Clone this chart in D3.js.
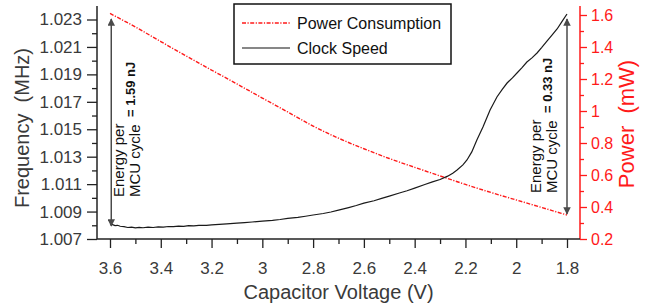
<!DOCTYPE html>
<html>
<head>
<meta charset="utf-8">
<script src="https://d3js.org/d3.v7.min.js"></script>
<style>
body { margin: 0; background: #fff; }
text { font-family: "Liberation Sans", Arial, sans-serif; }
</style>
</head>
<body>
<script>
// clock speed (MHz) vs capacitor voltage
const voltsF = [3.600, 3.590, 3.580, 3.570, 3.560, 3.545, 3.530, 3.515, 3.500, 3.485, 3.470, 3.450, 3.430, 3.410, 3.390, 3.370, 3.350, 3.330, 3.310, 3.290, 3.270, 3.250, 3.220, 3.200, 3.170, 3.140, 3.100, 3.070, 3.040, 3.000, 2.960, 2.930, 2.900, 2.860, 2.830, 2.800, 2.760, 2.730, 2.700, 2.660, 2.630, 2.600, 2.560, 2.530, 2.500, 2.460, 2.430, 2.400, 2.360, 2.330, 2.300, 2.270, 2.250, 2.233, 2.210, 2.194, 2.175, 2.155, 2.131, 2.103, 2.076, 2.055, 2.036, 2.015, 1.997, 1.978, 1.958, 1.938, 1.918, 1.900, 1.879, 1.860, 1.839, 1.820, 1.800]
const freq = [1.00810, 1.00805, 1.00798, 1.00800, 1.00793, 1.00790, 1.00784, 1.00787, 1.00781, 1.00784, 1.00782, 1.00786, 1.00784, 1.00789, 1.00786, 1.00791, 1.00790, 1.00794, 1.00792, 1.00797, 1.00796, 1.00800, 1.00799, 1.00803, 1.00806, 1.00810, 1.00816, 1.00820, 1.00824, 1.00830, 1.00836, 1.00842, 1.00851, 1.00858, 1.00866, 1.00875, 1.00886, 1.00897, 1.00910, 1.00929, 1.00944, 1.00961, 1.00979, 1.00996, 1.01012, 1.01035, 1.01052, 1.01071, 1.01097, 1.01116, 1.01134, 1.01158, 1.01180, 1.01203, 1.01240, 1.01276, 1.01335, 1.01422, 1.01516, 1.01640, 1.01735, 1.01790, 1.01837, 1.01875, 1.01910, 1.01948, 1.01990, 1.02020, 1.02056, 1.02095, 1.02143, 1.02185, 1.02231, 1.02285, 1.02340]

// power consumption (mW) vs capacitor voltage
const voltsP = [3.6, 3.5, 3.4, 3.3, 3.2, 3.1, 3.0, 2.9, 2.8, 2.7, 2.6, 2.5, 2.4, 2.3, 2.2, 2.1, 2.0, 1.9, 1.8]
const power = [1.61, 1.525, 1.434, 1.344, 1.256, 1.169, 1.081, 0.994, 0.906, 0.830, 0.764, 0.703, 0.648, 0.594, 0.541, 0.491, 0.444, 0.397, 0.35]

const voltTicks = [3.6, 3.4, 3.2, 3, 2.8, 2.6, 2.4, 2.2, 2, 1.8]
const voltMinor = [3.5, 3.3, 3.1, 2.9, 2.7, 2.5, 2.3, 2.1, 1.9]
const freqTicks = [1.007, 1.009, 1.011, 1.013, 1.015, 1.017, 1.019, 1.021, 1.023]
const freqMinor = [1.008, 1.010, 1.012, 1.014, 1.016, 1.018, 1.020, 1.022]
const powerTicks = [0.2, 0.4, 0.6, 0.8, 1, 1.2, 1.4, 1.6]
const powerMinor = [0.3, 0.5, 0.7, 0.9, 1.1, 1.3, 1.5]

const annotations = [
    { v: 3.595, top: 1.6, bottom: 0.35, energy: "= 1.59 nJ" },
    { v: 1.8, top: 1.6, bottom: 0.35, energy: "= 0.33 nJ" }
]

const W = 649, H = 304
const plot = { left: 97, right: 580, bottom: 239, top: 6 }

const svg = d3.select("body").append("svg")
    .attr("width", W)
    .attr("height", H)

const x = d3.scaleLinear().domain([3.6, 1.8]).range([110, 567])
const yF = d3.scaleLinear().domain([1.007, 1.023]).range([239, 19.5])
const yP = d3.scaleLinear().domain([0.2, 1.6]).range([239, 15])

const tickGrey = "#3a3a3a"
const red = "#ff1a1a"

// left axis
const gl = svg.append("g").attr("transform", "translate(" + plot.left + ",0)")
gl.call(d3.axisLeft(yF).tickValues(freqTicks).tickSize(10).tickPadding(5).tickFormat(d3.format(".3f")))
gl.append("g").call(d3.axisLeft(yF).tickValues(freqMinor).tickSize(5).tickFormat(""))
gl.selectAll(".domain").remove()
gl.selectAll("line").attr("stroke", "#222").attr("stroke-width", 1.3)
gl.selectAll("text").attr("font-size", 17).attr("fill", tickGrey).attr("font-family", "Liberation Sans")
gl.append("line").attr("y1", plot.top).attr("y2", plot.bottom).attr("stroke", "#222").attr("stroke-width", 1.5)

// right axis
const gr = svg.append("g").attr("transform", "translate(" + plot.right + ",0)")
gr.call(d3.axisRight(yP).tickValues(powerTicks).tickSize(7).tickPadding(4).tickFormat(d => String(d)))
gr.append("g").call(d3.axisRight(yP).tickValues(powerMinor).tickSize(4).tickFormat(""))
gr.selectAll(".domain").remove()
gr.selectAll("line").attr("stroke", red).attr("stroke-width", 1.3)
gr.selectAll("text").attr("font-size", 16).attr("fill", red).attr("font-family", "Liberation Sans")
gr.append("line").attr("y1", plot.top).attr("y2", plot.bottom).attr("stroke", red).attr("stroke-width", 1.5)

// bottom axis
const gb = svg.append("g").attr("transform", "translate(0," + plot.bottom + ")")
gb.call(d3.axisBottom(x).tickValues(voltTicks).tickSize(9).tickPadding(14).tickFormat(d => String(d)))
gb.append("g").call(d3.axisBottom(x).tickValues(voltMinor).tickSize(5).tickFormat(""))
gb.selectAll(".domain").remove()
gb.selectAll("line").attr("stroke", "#222").attr("stroke-width", 1.3)
gb.selectAll("text").attr("font-size", 17).attr("fill", tickGrey).attr("font-family", "Liberation Sans")
gb.append("line").attr("x1", plot.left).attr("x2", plot.right).attr("stroke", "#222").attr("stroke-width", 1.5)

// axis titles
svg.append("text")
    .attr("x", (plot.left + plot.right) / 2)
    .attr("y", 299)
    .attr("text-anchor", "middle")
    .attr("font-size", 20)
    .attr("fill", tickGrey)
    .text("Capacitor Voltage (V)")

svg.append("text")
    .attr("transform", "translate(29,128) rotate(-90)")
    .attr("text-anchor", "middle")
    .attr("font-size", 20)
    .attr("fill", tickGrey)
    .style("white-space", "pre")
    .text("Frequency  (MHz)")

svg.append("text")
    .attr("transform", "translate(634,124) rotate(-90)")
    .attr("text-anchor", "middle")
    .attr("font-size", 22)
    .attr("fill", red)
    .style("white-space", "pre")
    .text("Power  (mW)")

// data lines
const powerData = voltsP.map((v, i) => ({ v: v, p: power[i] }))
const freqData = voltsF.map((v, i) => ({ v: v, f: freq[i] }))

svg.append("path")
    .datum(powerData)
    .attr("fill", "none")
    .attr("stroke", red)
    .attr("stroke-width", 1.4)
    .attr("stroke-dasharray", "4,1.5,1.2,1.5")
    .attr("d", d3.line().curve(d3.curveMonotoneX).x(d => x(d.v)).y(d => yP(d.p)))

svg.append("path")
    .datum(freqData)
    .attr("fill", "none")
    .attr("stroke", "#1a1a1a")
    .attr("stroke-width", 1.2)
    .attr("d", d3.line().x(d => x(d.v)).y(d => yF(d.f)))

// arrows
const defs = svg.append("defs")
defs.append("marker")
    .attr("id", "head")
    .attr("viewBox", "0 0 10 10")
    .attr("refX", 9).attr("refY", 5)
    .attr("markerWidth", 5).attr("markerHeight", 5)
    .attr("orient", "auto-start-reverse")
    .append("path").attr("d", "M0,0 L10,5 L0,10 z").attr("fill", "#4a4a4a")

annotations.forEach(function (a, i) {
    const ax = x(a.v)
    svg.append("line")
        .attr("x1", ax).attr("x2", ax)
        .attr("y1", yP(a.top) + 4).attr("y2", yP(a.bottom) - 1 + (i == 0 ? 12 : 0))
        .attr("stroke", "#4a4a4a")
        .attr("stroke-width", 1.5)
        .attr("marker-start", "url(#head)")
        .attr("marker-end", "url(#head)")
})

// energy text
function energyText(tx, ty, label) {
    const g = svg.append("g").attr("transform", "translate(" + tx + "," + ty + ") rotate(-90)")
    g.append("text").attr("x", 0).attr("y", 0).attr("font-size", 15).attr("fill", "#111").text("Energy per")
    g.append("text").attr("x", 0).attr("y", 15.5).attr("font-size", 15).attr("fill", "#111").text("MCU cycle")
    g.append("text").attr("x", 80).attr("y", 10.5).attr("font-size", 13).attr("font-weight", "bold").attr("fill", "#111")
        .style("white-space", "pre").text(label)
}
energyText(124, 197, annotations[0].energy)
energyText(541, 193, annotations[1].energy)

// legend
const lg = svg.append("g")
lg.append("rect")
    .attr("x", 234).attr("y", 4)
    .attr("width", 217).attr("height", 60)
    .attr("fill", "#fff")
    .attr("stroke", "#111")
    .attr("stroke-width", 1.5)
lg.append("line")
    .attr("x1", 242).attr("x2", 290).attr("y1", 23).attr("y2", 23)
    .attr("stroke", red).attr("stroke-width", 1.4).attr("stroke-dasharray", "4,1.5,1.2,1.5")
lg.append("line")
    .attr("x1", 242).attr("x2", 290).attr("y1", 48).attr("y2", 48)
    .attr("stroke", "#111").attr("stroke-width", 1.2)
lg.append("text").attr("x", 297).attr("y", 29).attr("font-size", 16).attr("fill", "#111").text("Power Consumption")
lg.append("text").attr("x", 297).attr("y", 54).attr("font-size", 16).attr("fill", "#111").text("Clock Speed")
</script>
</body>
</html>
